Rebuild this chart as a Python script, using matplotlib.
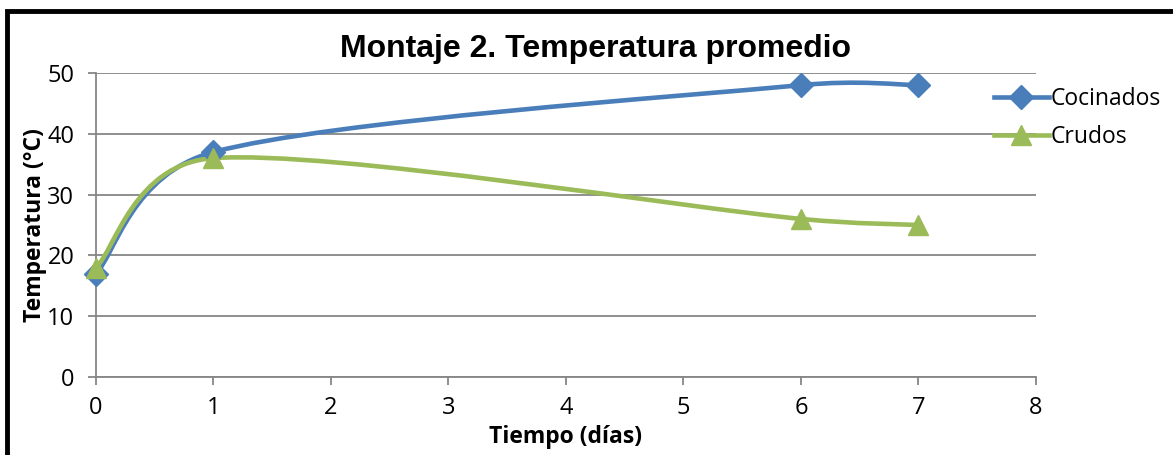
import matplotlib
matplotlib.use("Agg")
import numpy as np
import matplotlib.pyplot as plt
from matplotlib.path import Path
from matplotlib.patches import PathPatch, Rectangle
from matplotlib.lines import Line2D

# ---- data ----
dias = [0, 1, 6, 7]
cocinados = [17, 37, 48, 48]
crudos = [18, 36, 26, 25]
series_names = ["Cocinados", "Crudos"]
x_ticks = [0, 1, 2, 3, 4, 5, 6, 7, 8]
y_ticks = [0, 10, 20, 30, 40, 50]
title = "Montaje 2. Temperatura promedio"
xlabel = "Tiempo (días)"
ylabel = "Temperatura (°C)"

BLUE = "#4A7EBB"
GREEN = "#9BBB59"
GRID = "#868686"
TICKFONT = "Open Sans"


def smooth_path(ax, xs, ys):
    """Excel-like smoothed line (Bezier segments, computed in display space)."""
    trans = ax.transData
    pts = trans.transform(np.column_stack([xs, ys]))
    n = len(pts)
    verts = [pts[0]]
    codes = [Path.MOVETO]
    for i in range(n - 1):
        p0 = pts[i - 1] if i > 0 else pts[i]
        p1 = pts[i]
        p2 = pts[i + 1]
        p3 = pts[i + 2] if i + 2 < n else pts[i + 1]
        d02 = np.hypot(*(p2 - p0))
        d12 = np.hypot(*(p2 - p1))
        d13 = np.hypot(*(p3 - p1))
        f0 = 1 / 6.0
        f3 = 1 / 6.0
        if d02 / 6.0 > d12 / 2.0 and d02 > 0:
            f0 = (d12 / 2.0) / d02
        if d13 / 6.0 > d12 / 2.0 and d13 > 0:
            f3 = (d12 / 2.0) / d13
        c1 = p1 + (p2 - p0) * f0
        c2 = p2 + (p1 - p3) * f3
        verts += [c1, c2, p2]
        codes += [Path.CURVE4] * 3
    verts = trans.inverted().transform(np.array(verts))
    return Path(verts, codes)


fig = plt.figure(figsize=(11.73, 4.55), dpi=100)
ax = fig.add_axes([0.0818, 0.1714, 0.8014, 0.6682])

ax.set_xlim(0, 8)
ax.set_ylim(0, 50)
ax.set_xticks(x_ticks)
ax.set_yticks(y_ticks)
ax.set_xticklabels([str(v) for v in x_ticks], fontsize=17, family=TICKFONT)
ax.set_yticklabels([str(v) for v in y_ticks], fontsize=17, family=TICKFONT)

ax.yaxis.grid(True, color=GRID, linewidth=1.3)
ax.set_axisbelow(True)
for s in ["top", "right"]:
    ax.spines[s].set_visible(False)
for s in ["left", "bottom"]:
    ax.spines[s].set_color(GRID)
    ax.spines[s].set_linewidth(1.3)
ax.tick_params(axis="both", direction="out", color=GRID, width=1.3, length=5.5)
ax.tick_params(axis="x", pad=8)
ax.tick_params(axis="y", pad=10)

for ys, color, marker, ms in [(cocinados, BLUE, "D", 12), (crudos, GREEN, "^", 14)]:
    patch = PathPatch(smooth_path(ax, dias, ys), facecolor="none", edgecolor=color,
                      linewidth=3.3, capstyle="round", joinstyle="round", zorder=3)
    ax.add_patch(patch)
    ax.plot(dias, ys, linestyle="none", marker=marker, markersize=ms,
            color=color, markeredgecolor=color, zorder=4, clip_on=False)

handles = [
    Line2D([], [], color=BLUE, linewidth=3.3, marker="D", markersize=12),
    Line2D([], [], color=GREEN, linewidth=3.3, marker="^", markersize=14),
]
leg = fig.legend(handles, series_names, loc="upper left",
                 bbox_to_anchor=(0.8295, 0.8544), frameon=False,
                 prop={"family": TICKFONT, "size": 16.5},
                 handlelength=2.4, handletextpad=0.1, labelspacing=0.6)

fig.text(0.508, 0.893, title, ha="center", va="center", fontsize=23,
         fontweight="bold", family="Liberation Sans")
ax.set_xlabel(xlabel, fontsize=16.5, fontweight="bold", family=TICKFONT, labelpad=4)
ax.set_ylabel(ylabel, fontsize=16.5, fontweight="bold", family=TICKFONT, labelpad=0)

# outer chart border (cropped: only left and top visible)
fig.add_artist(Rectangle((6.5 / 1173, -0.1), 1.2, 1.1 - 11 / 455,
                         transform=fig.transFigure, fill=False,
                         edgecolor="black", linewidth=3.5, clip_on=False))

fig.savefig("out.png", dpi=100)
